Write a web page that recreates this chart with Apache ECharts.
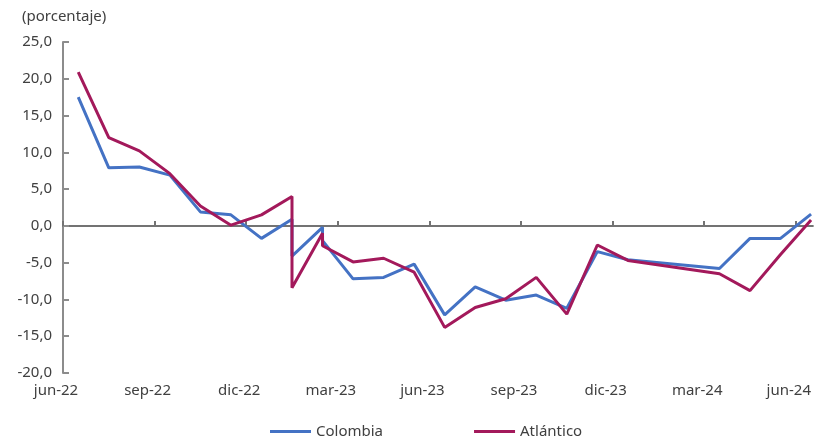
<!DOCTYPE html>
<html>
<head>
<meta charset="utf-8">
<script src="https://cdn.jsdelivr.net/npm/echarts@6/dist/echarts.min.js"></script>
<style>
  html, body { margin: 0; padding: 0; background: #fff; }
  #chart { width: 814px; height: 440px; }
</style>
</head>
<body>
<div id="chart"></div>
<script>
// Fechas de cada observación (ene-23 y feb-23 aparecen dos veces: empalme de series)
const meses = ['jun-22','jul-22','ago-22','sep-22','oct-22','nov-22','dic-22',
  'ene-23','ene-23','feb-23','feb-23','mar-23','abr-23','may-23','jun-23','jul-23',
  'ago-23','sep-23','oct-23','nov-23','dic-23','mar-24','abr-24','may-24','jun-24'];

// Variación anual (porcentaje)
const colombia = [17.5, 7.9, 8.0, 6.9, 1.9, 1.5, -1.7,
  0.9, -4.1, -0.2, -2.0, -7.2, -7.0, -5.2, -12.1, -8.3,
  -10.1, -9.4, -11.2, -3.5, -4.6, -5.8, -1.7, -1.7, 1.6];
const atlantico = [20.9, 12.0, 10.2, 7.1, 2.7, 0.1, 1.5,
  4.0, -8.4, -1.0, -2.7, -4.9, -4.4, -6.3, -13.8, -11.1,
  -9.9, -7.0, -12.0, -2.6, -4.7, -6.5, -8.8, -3.9, 0.8];

// Rótulos del eje de tiempo (cada tres meses)
const etiquetasX = ['jun-22','sep-22','dic-22','mar-23','jun-23','sep-23','dic-23','mar-24','jun-24'];

const MES = ['ene','feb','mar','abr','may','jun','jul','ago','sep','oct','nov','dic'];
// Posición en meses desde jun-22; cada dato se ubica a mitad de mes
function posicion(m) {
  const [nombre, anio] = m.split('-');
  return (Number(anio) - 22) * 12 + MES.indexOf(nombre) - 5 + 0.5;
}
const serie = vals => vals.map((v, i) => [posicion(meses[i]), v]);
const marcasX = etiquetasX.map(posicion).map(p => p - 0.5);

const FONT = 'Noto Sans';
const TXT = '#404040';
const X_MAX = 24.56;

const chart = echarts.init(document.getElementById('chart'));
chart.setOption({
  animation: false,
  textStyle: { fontFamily: FONT, color: TXT },
  grid: { left: 63, top: 42, right: 0, bottom: 67, containLabel: false },
  graphic: [{
    type: 'text', left: 22, top: 9,
    style: { text: '(porcentaje)', font: '15px "' + FONT + '"', fill: TXT }
  }],
  legend: {
    left: 270, top: 424, padding: 0,
    icon: 'rect', itemWidth: 41, itemHeight: 3, itemGap: 91,
    textStyle: { fontFamily: FONT, fontSize: 15, color: TXT },
    data: ['Colombia', 'Atlántico']
  },
  xAxis: [{
    type: 'value', min: 0, max: X_MAX,
    position: 'bottom',
    axisLine: { show: false, onZero: false },
    axisTick: { show: false },
    splitLine: { show: false },
    axisLabel: {
      fontFamily: FONT, fontSize: 15, color: TXT, margin: 10,
      padding: [0, 14, 0, 0],
      customValues: marcasX,
      formatter: v => etiquetasX[Math.round(v / 3)]
    }
  }, {
    // línea del cero con marcas trimestrales hacia arriba
    type: 'value', min: 0, max: X_MAX,
    position: 'top',
    axisLine: { show: true, onZero: true, lineStyle: { color: '#737373', width: 2 } },
    axisTick: { show: true, inside: false, length: 5, customValues: marcasX,
      lineStyle: { color: '#737373', width: 2 } },
    axisLabel: { show: false },
    splitLine: { show: false }
  }],
  yAxis: {
    type: 'value', min: -20, max: 25, interval: 5,
    axisLine: { show: true, lineStyle: { color: '#8c8c8c', width: 2 } },
    axisTick: { show: true, inside: true, length: 6, lineStyle: { color: '#8c8c8c', width: 2 } },
    splitLine: { show: false },
    axisLabel: {
      fontFamily: FONT, fontSize: 15, color: TXT, margin: 11,
      formatter: v => v.toFixed(1).replace('.', ',')
    }
  },
  series: [{
    name: 'Colombia', type: 'line', xAxisIndex: 0,
    data: serie(colombia), showSymbol: false, symbol: 'none',
    color: '#4472c4',
    lineStyle: { width: 3, color: '#4472c4' }
  }, {
    name: 'Atlántico', type: 'line', xAxisIndex: 0,
    data: serie(atlantico), showSymbol: false, symbol: 'none',
    color: '#a3195b',
    lineStyle: { width: 3, color: '#a3195b' }
  }]
});
</script>
</body>
</html>
